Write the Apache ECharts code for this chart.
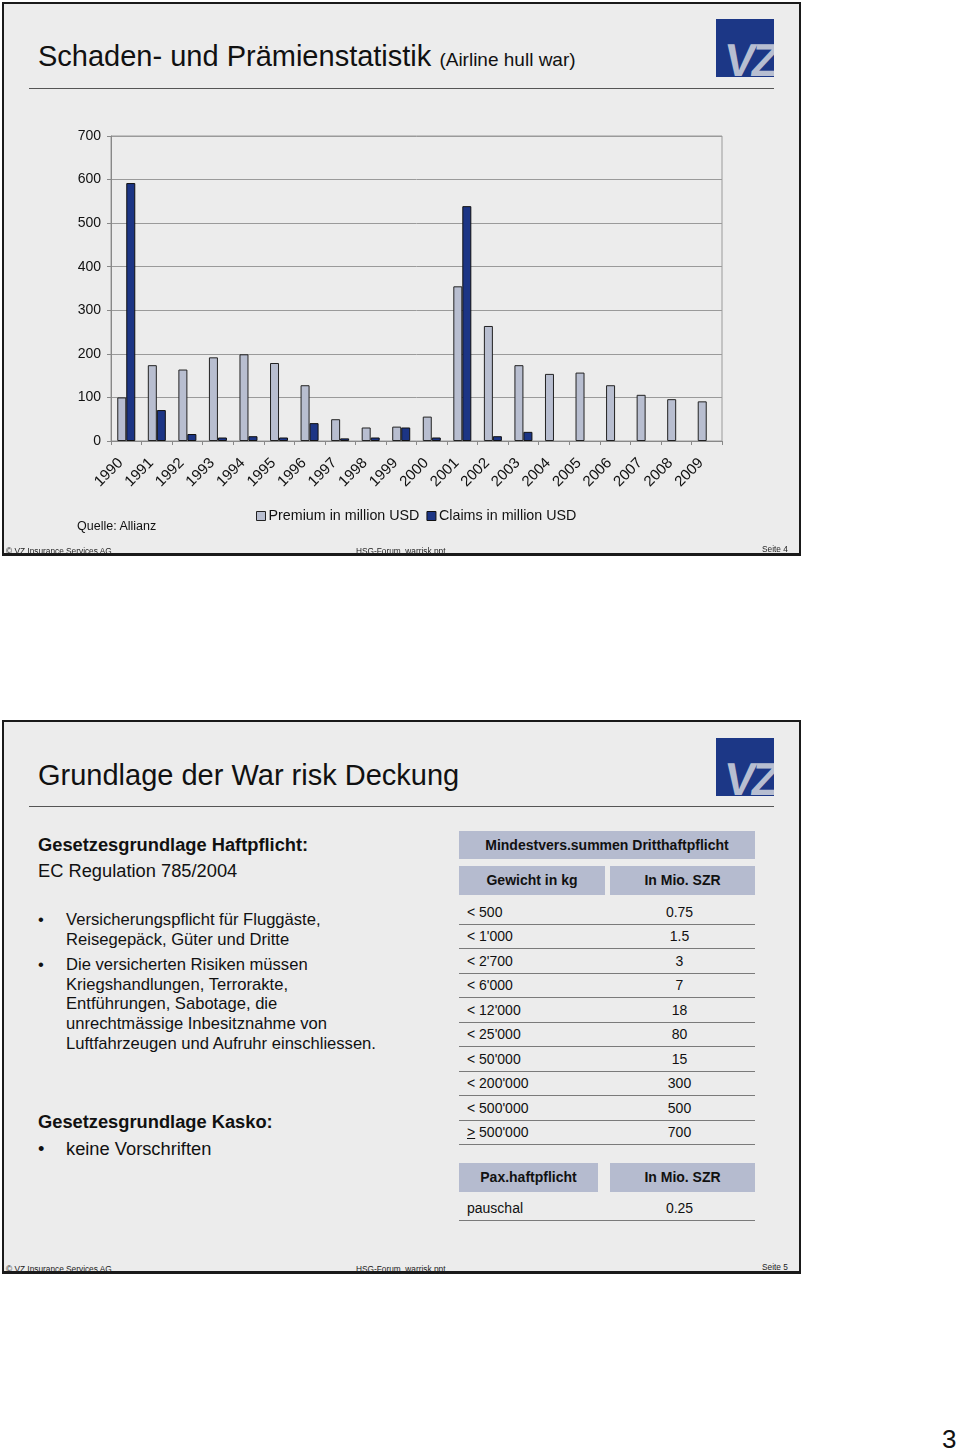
<!DOCTYPE html>
<html>
<head>
<meta charset="utf-8">
<script src="https://cdn.jsdelivr.net/npm/echarts@6/dist/echarts.min.js"></script>
<style>
  html, body { margin:0; padding:0; background:#fff; }
  body { width:960px; height:1452px; position:relative; font-family:"Liberation Sans", Arial, sans-serif; color:#111; overflow:hidden; }
  .slide { position:absolute; left:2px; width:795px; height:549px; background:#ececec; border:2px solid #1a1a1a; border-bottom-width:3px; box-sizing:content-box; }
  .in { position:absolute; left:-4px; top:0; width:800px; height:549px; }
  .abs { position:absolute; white-space:nowrap; }
  .title { font-size:29px; left:38px; }
  .title small { font-size:19px; }
  .rule { position:absolute; left:29px; width:745px; height:0; border-top:1.5px solid #555; }
  .logo { position:absolute; left:716px; width:58px; height:58px; background:#1c3786; overflow:hidden; }
  .logo span { position:absolute; left:9px; top:14px; font-size:46px; font-weight:bold; color:#b7bed1; letter-spacing:-4px; transform:skewX(-8deg); }
  .foot { font-family:"Liberation Sans Narrow","Liberation Sans",Arial,sans-serif; font-size:8.3px; color:#222; }
  .hdr { position:absolute; background:#b5bbcf; font-weight:bold; font-size:14px; text-align:center; color:#111; }
  .row { position:absolute; left:459px; width:296px; height:24px; border-bottom:1.5px solid #7a7a7a; font-size:14px; }
  .row .l { position:absolute; left:8px; top:4px; }
  .row .r { position:absolute; left:148px; width:145px; text-align:center; top:4px; }
  .txt { font-size:16.6px; line-height:19.7px; }
</style>
</head>
<body>
<!-- Slide 1 -->
<div class="slide" style="top:2px;"><div class="in">
  <div class="abs title" style="top:36px;">Schaden- und Prämienstatistik <small>(Airline hull war)</small></div>
  <div class="rule" style="top:84px;"></div>
  <div class="logo" style="top:15px;"><span>VZ</span></div>
  <div id="chart" style="position:absolute;left:0;top:-4px;width:800px;height:555px;"></div>
  <div class="abs" style="left:77px;top:515px;font-size:12.5px;">Quelle: Allianz</div>
  <div class="abs foot" style="left:6px;top:542px;">© VZ Insurance Services AG</div>
  <div class="abs foot" style="left:356px;top:542px;">HSG-Forum_warrisk.ppt</div>
  <div class="abs foot" style="left:762px;top:540px;">Seite 4</div>
</div></div>

<!-- Slide 2 -->
<div class="slide" style="top:720px;"><div class="in">
  <div class="abs title" style="top:37px;">Grundlage der War risk Deckung</div>
  <div class="rule" style="top:84px;"></div>
  <div class="logo" style="top:16px;"><span>VZ</span></div>

  <div class="abs" style="left:38px;top:112px;font-size:18.3px;font-weight:bold;">Gesetzesgrundlage Haftpflicht:</div>
  <div class="abs" style="left:38px;top:138px;font-size:18.3px;">EC Regulation 785/2004</div>
  <div class="abs txt" style="left:38px;top:188px;">•</div>
  <div class="abs txt" style="left:66px;top:188px;">Versicherungspflicht für Fluggäste,<br>Reisegepäck, Güter und Dritte</div>
  <div class="abs txt" style="left:38px;top:233px;">•</div>
  <div class="abs txt" style="left:66px;top:233px;">Die versicherten Risiken müssen<br>Kriegshandlungen, Terrorakte,<br>Entführungen, Sabotage, die<br>unrechtmässige Inbesitznahme von<br>Luftfahrzeugen und Aufruhr einschliessen.</div>
  <div class="abs" style="left:38px;top:389px;font-size:18.3px;font-weight:bold;">Gesetzesgrundlage Kasko:</div>
  <div class="abs" style="left:38px;top:416px;font-size:18.3px;">•</div>
  <div class="abs" style="left:66px;top:416px;font-size:18.3px;">keine Vorschriften</div>

  <div id="tbl"></div>

  <div class="abs foot" style="left:6px;top:542px;">© VZ Insurance Services AG</div>
  <div class="abs foot" style="left:356px;top:542px;">HSG-Forum_warrisk.ppt</div>
  <div class="abs foot" style="left:762px;top:540px;">Seite 5</div>
</div></div>

<div class="abs" style="left:942px;top:1424px;font-size:26px;">3</div>

<script>
// ---- Chart data ----
var years = ['1990','1991','1992','1993','1994','1995','1996','1997','1998','1999','2000','2001','2002','2003','2004','2005','2006','2007','2008','2009'];
var premium = [100, 174, 164, 192, 199, 179, 128, 50, 31, 33, 56, 355, 264, 174, 154, 157, 128, 106, 96, 91];
var claims  = [592, 71, 16, 8, 11, 8, 41, 6, 8, 31, 8, 539, 11, 21, null, null, null, null, null, null];
var yTicks = [0, 100, 200, 300, 400, 500, 600, 700];

// ---- Table data ----
var tableTitle = 'Mindestvers.summen Dritthaftpflicht';
var tableHeads = ['Gewicht in kg', 'In Mio. SZR'];
var weights = ['< 500', '< 1\'000', '< 2\'700', '< 6\'000', '< 12\'000', '< 25\'000', '< 50\'000', '< 200\'000', '< 500\'000', '<u>&gt;</u> 500\'000'];
var sums = ['0.75', '1.5', '3', '7', '18', '80', '15', '300', '500', '700'];
var paxHeads = ['Pax.haftpflicht', 'In Mio. SZR'];
var paxRows = [['pauschal', '0.25']];

// build table (coordinates relative to slide 2 origin)
(function(){
  var h = '';
  h += '<div class="hdr" style="left:459px;top:109px;width:296px;height:28px;line-height:28px;">' + tableTitle + '</div>';
  h += '<div class="hdr" style="left:459px;top:144px;width:146px;height:29px;line-height:29px;">' + tableHeads[0] + '</div>';
  h += '<div class="hdr" style="left:610px;top:144px;width:145px;height:29px;line-height:29px;">' + tableHeads[1] + '</div>';
  for (var i = 0; i < weights.length; i++) {
    var t = 178 + i * 24.45;
    h += '<div class="row" style="top:' + t + 'px;"><span class="l">' + weights[i] + '</span><span class="r">' + sums[i] + '</span></div>';
  }
  h += '<div class="hdr" style="left:459px;top:441px;width:139px;height:29px;line-height:29px;">' + paxHeads[0] + '</div>';
  h += '<div class="hdr" style="left:610px;top:441px;width:145px;height:29px;line-height:29px;">' + paxHeads[1] + '</div>';
  for (var j = 0; j < paxRows.length; j++) {
    h += '<div class="row" style="top:' + (474 + j*24.45) + 'px;"><span class="l">' + paxRows[j][0] + '</span><span class="r">' + paxRows[j][1] + '</span></div>';
  }
  document.getElementById('tbl').innerHTML = h;
})();

var chart = echarts.init(document.getElementById('chart'), null, {renderer:'canvas'});
chart.setOption({
  animation: false,
  backgroundColor: 'transparent',
  textStyle: { fontFamily: '"Liberation Sans", Arial, sans-serif' },
  grid: { left: 111, top: 136, width: 611, height: 305, show: true, borderColor: '#9a9a9a', borderWidth: 1, backgroundColor: 'transparent' },
  legend: {
    left: 251, top: 504, itemWidth: 9, itemHeight: 9, itemGap: 7,
    icon: 'rect',
    textStyle: { fontSize: 14.3, color: '#111', padding: [0,0,0,-2] },
    data: [
      { name: 'Premium in million USD', itemStyle: { color: '#b8bed0', borderColor: '#222', borderWidth: 1 } },
      { name: 'Claims in million USD', itemStyle: { color: '#1c3585', borderColor: '#111', borderWidth: 1 } }
    ]
  },
  xAxis: {
    type: 'category', data: years, boundaryGap: true,
    axisLine: { lineStyle: { color: '#888', width: 1 } },
    axisTick: { show: true, length: 4, lineStyle: { color: '#888' }, alignWithLabel: false },
    axisLabel: { rotate: 45, fontSize: 15, color: '#111', margin: 14, interval: 0, padding: [0, 8, 0, 0] }
  },
  yAxis: {
    type: 'value', min: yTicks[0], max: yTicks[yTicks.length-1], interval: 100,
    axisLine: { show: true, lineStyle: { color: '#888' } },
    axisTick: { show: true, length: 4, lineStyle: { color: '#888' } },
    axisLabel: { fontSize: 14, color: '#111', margin: 10 },
    splitLine: { lineStyle: { color: '#9a9a9a', width: 1 } }
  },
  series: [
    { name: 'Premium in million USD', type: 'bar', data: premium, barWidth: 9, barGap: '0%',
      itemStyle: { color: '#b8bed0', borderColor: '#222', borderWidth: 1 } },
    { name: 'Claims in million USD', type: 'bar', data: claims, barWidth: 9, barGap: '0%',
      itemStyle: { color: '#1c3585', borderColor: '#111', borderWidth: 1 } }
  ]
});
</script>
</body>
</html>
